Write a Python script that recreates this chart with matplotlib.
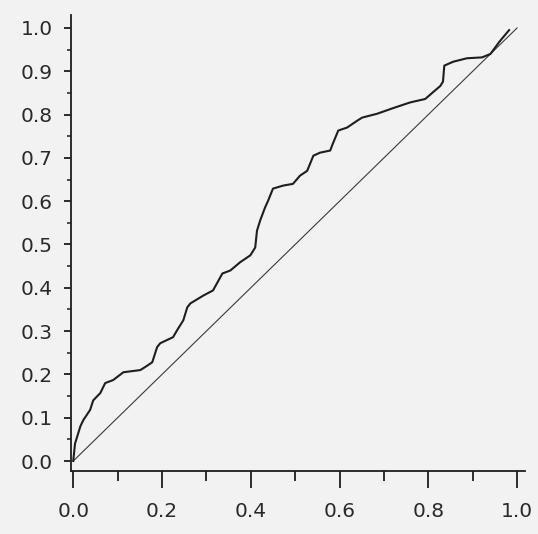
import numpy as np
import matplotlib
matplotlib.use("Agg")
import matplotlib.pyplot as plt
from matplotlib.ticker import MultipleLocator

# --------------------------
# Data
# --------------------------
x_emp = [0.0, 0.004, 0.016, 0.023, 0.038, 0.045, 0.061, 0.072, 0.090, 0.113,
         0.151, 0.162, 0.178, 0.189, 0.196, 0.225, 0.234, 0.248, 0.257, 0.264,
         0.293, 0.315, 0.336, 0.354, 0.376, 0.399, 0.410, 0.414, 0.421, 0.432,
         0.439, 0.450, 0.473, 0.495, 0.511, 0.527, 0.541, 0.556, 0.579, 0.583,
         0.597, 0.617, 0.640, 0.651, 0.685, 0.721, 0.759, 0.793, 0.811, 0.827,
         0.833, 0.836, 0.856, 0.887, 0.921, 0.940, 0.960, 0.982]
y_emp = [0.0, 0.040, 0.080, 0.095, 0.118, 0.140, 0.157, 0.180, 0.187, 0.205,
         0.210, 0.217, 0.228, 0.263, 0.272, 0.286, 0.302, 0.325, 0.355, 0.364,
         0.382, 0.394, 0.433, 0.440, 0.459, 0.475, 0.493, 0.532, 0.555, 0.585,
         0.601, 0.629, 0.636, 0.640, 0.659, 0.670, 0.705, 0.712, 0.717, 0.728,
         0.763, 0.770, 0.786, 0.793, 0.802, 0.815, 0.828, 0.836, 0.852, 0.866,
         0.876, 0.913, 0.922, 0.930, 0.932, 0.940, 0.968, 0.995]
x_ref = [0.0, 1.0]
y_ref = [0.0, 1.0]

paper = "#f2f2f2"
ink = "#1e1e1e"

fig = plt.figure(figsize=(5.38, 5.34), dpi=100, facecolor=paper)
ax = fig.add_axes([0.132, 0.118, 0.844, 0.854], facecolor=paper)

ax.plot(x_ref, y_ref, color="#3a3a3a", linewidth=0.8)
ax.plot(x_emp, y_emp, color=ink, linewidth=1.5)

ax.set_xlim(-0.005, 1.018)
ax.set_ylim(-0.023, 1.03)

for side in ["top", "right"]:
    ax.spines[side].set_visible(False)
for side in ["left", "bottom"]:
    ax.spines[side].set_color(ink)
    ax.spines[side].set_linewidth(1.3)

ax.xaxis.set_minor_locator(MultipleLocator(0.1))
ax.yaxis.set_minor_locator(MultipleLocator(0.05))

ax.set_xticks(np.arange(0, 1.01, 0.2))
ax.set_xticklabels([f"{v:.1f}" for v in np.arange(0, 1.01, 0.2)])
ax.set_yticks(np.arange(0, 1.01, 0.1))
ax.set_yticklabels([f"{v:.1f}" for v in np.arange(0, 1.01, 0.1)])

ax.tick_params(axis="x", which="major", direction="out", length=12, width=1.3,
               color=ink, labelsize=14.5, labelcolor="#2a2a2a", pad=10)
ax.tick_params(axis="x", which="minor", direction="out", length=7, width=1.3, color=ink)
ax.tick_params(axis="y", which="major", direction="out", length=5, width=1.3,
               color=ink, labelsize=14.5, labelcolor="#2a2a2a", pad=8)
ax.tick_params(axis="y", which="minor", direction="out", length=3, width=1.1, color=ink)

fig.savefig("out.png", dpi=100, facecolor=paper)
